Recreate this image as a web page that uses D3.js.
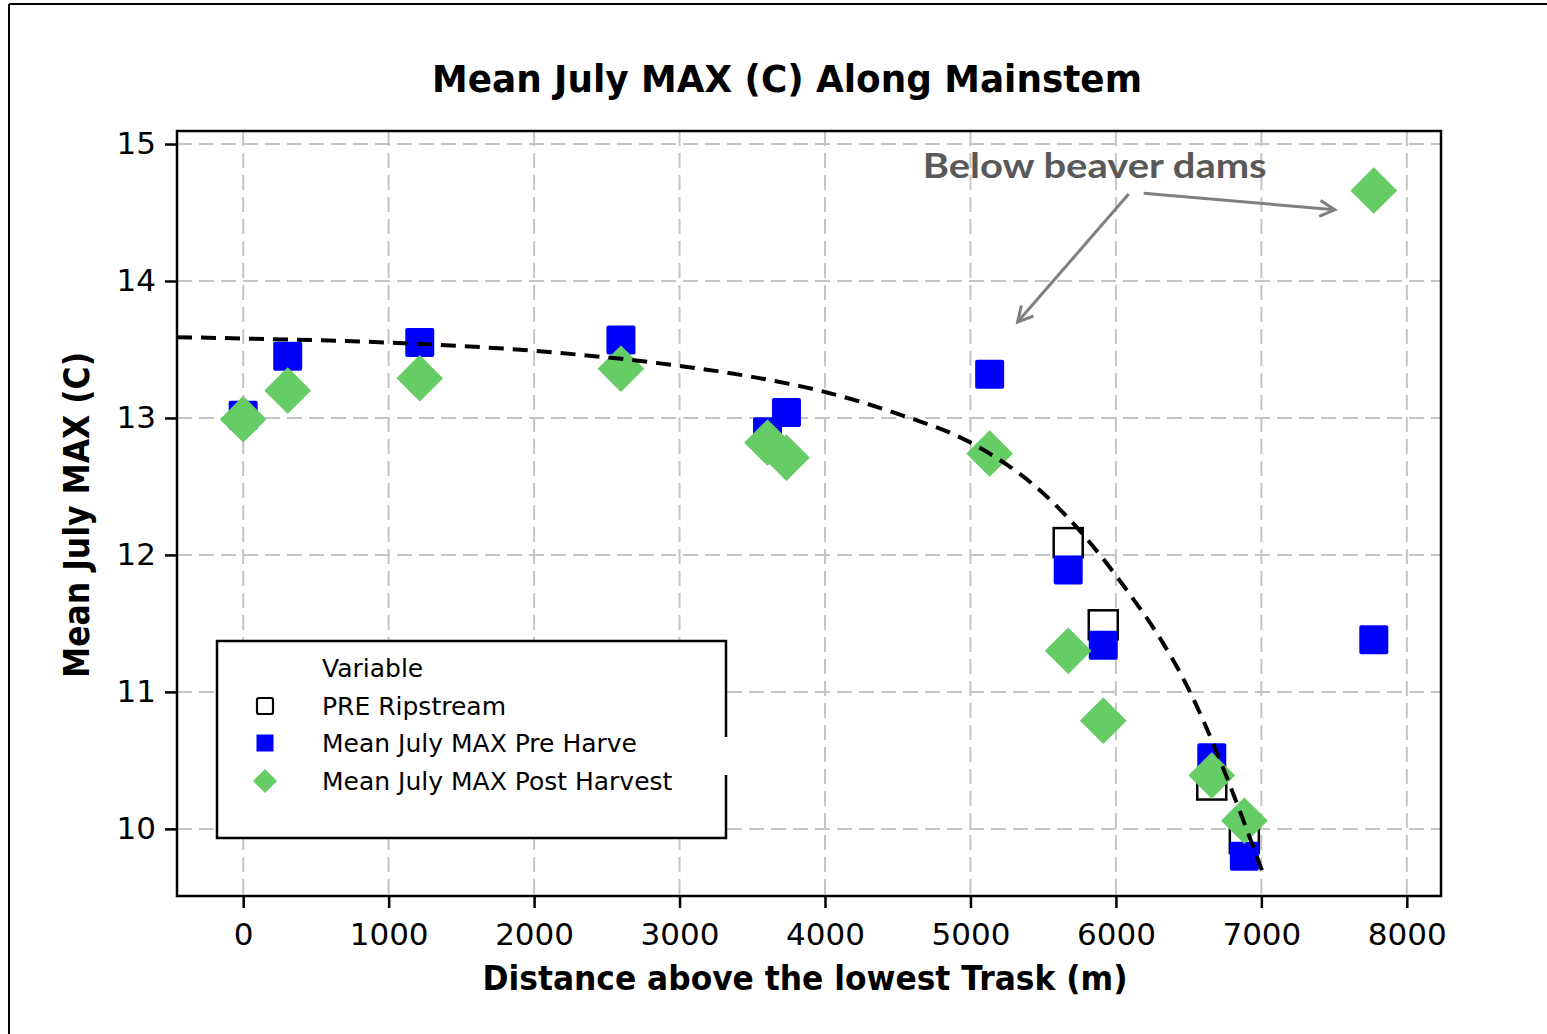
<!DOCTYPE html>
<html>
<head>
<meta charset="utf-8">
<script src="https://cdn.jsdelivr.net/npm/d3@7"></script>
<style>
  body { margin: 0; background: #fff; }
  svg { display: block; }
</style>
</head>
<body>
<div id="chart"></div>
<script>
// distance above the lowest Trask (m)
var preRipX   = [5672, 5913, 6659, 6883];
var preRipY   = [12.09, 11.49, 10.32, 9.93];
var preHarvX  = [0, 306, 1214, 2597, 3605, 3735, 5132, 5672, 5913, 6659, 6883, 7773];
var preHarvY  = [13.02, 13.45, 13.55, 13.57, 12.9, 13.04, 13.32, 11.89, 11.34, 10.52, 9.8, 11.38];
var postHarvX = [0, 306, 1214, 2597, 3605, 3735, 5132, 5672, 5913, 6659, 6883, 7773];
var postHarvY = [12.99, 13.2, 13.29, 13.36, 12.82, 12.71, 12.74, 11.3, 10.79, 10.39, 10.06, 14.66];
// dashed trend line
var fitX = [-455, 0, 1000, 2000, 3000, 3500, 4000, 4500, 5000, 5500, 6000, 6500, 7010];
var fitY = [13.59, 13.58, 13.55, 13.49, 13.38, 13.3, 13.19, 13.03, 12.82, 12.45, 11.85, 11.02, 9.68];
var xTicks = [0, 1000, 2000, 3000, 4000, 5000, 6000, 7000, 8000];
var yTicks = [10, 11, 12, 13, 14, 15];
var legendNames = ["PRE Ripstream", "Mean July MAX Pre Harvest", "Mean July MAX Post Harvest"];
// annotation in data units: text anchor, arrow from -> to
var noteText = "Below beaver dams";
var notePos = [5854, 14.75];
var noteArrows = [[6088, 14.635, 5324, 13.70], [6191, 14.64, 7505, 14.52]];

var W = 1547, H = 1034;
var plot = { left: 177, top: 131, right: 1441, bottom: 896 };

var svg = d3.select("#chart").append("svg")
  .attr("width", W)
  .attr("height", H);

// outer border (only top and left show in the picture)
svg.append("line").attr("x1", 9).attr("y1", 4).attr("x2", W).attr("y2", 4)
  .attr("stroke", "#000").attr("stroke-width", 2);
svg.append("line").attr("x1", 9).attr("y1", 4).attr("x2", 9).attr("y2", H)
  .attr("stroke", "#000").attr("stroke-width", 2);

var x = d3.scaleLinear().domain([-455, 8235]).range([plot.left, plot.right]);
var y = d3.scaleLinear().domain([9.51, 15.095]).range([plot.bottom, plot.top]);

var defs = svg.append("defs");
defs.append("clipPath").attr("id", "plotclip")
  .append("rect")
  .attr("x", plot.left).attr("y", plot.top)
  .attr("width", plot.right - plot.left).attr("height", plot.bottom - plot.top);
defs.append("marker")
  .attr("id", "openhead")
  .attr("viewBox", "0 0 22 22")
  .attr("refX", 19).attr("refY", 11)
  .attr("markerWidth", 22).attr("markerHeight", 22)
  .attr("markerUnits", "userSpaceOnUse")
  .attr("orient", "auto")
  .append("path")
  .attr("d", "M4,3 L19,11 L4,19")
  .attr("fill", "none")
  .attr("stroke", "#7f7f7f")
  .attr("stroke-width", 3);

// grid
var grid = svg.append("g").attr("clip-path", "url(#plotclip)");
grid.selectAll(".vgrid").data(xTicks).enter().append("line")
  .attr("x1", function(d) { return x(d); }).attr("x2", function(d) { return x(d); })
  .attr("y1", plot.top).attr("y2", plot.bottom)
  .attr("stroke", "#c4c4c4").attr("stroke-width", 2).attr("stroke-dasharray", "15,7");
grid.selectAll(".hgrid").data(yTicks).enter().append("line")
  .attr("x1", plot.left).attr("x2", plot.right)
  .attr("y1", function(d) { return y(d); }).attr("y2", function(d) { return y(d); })
  .attr("stroke", "#c4c4c4").attr("stroke-width", 2).attr("stroke-dasharray", "15,7");

// axes
var tickFont = "'DejaVu Sans', Verdana, sans-serif";
var xAxis = svg.append("g")
  .attr("transform", "translate(0," + plot.bottom + ")")
  .call(d3.axisBottom(x).tickValues(xTicks).tickSize(12).tickPadding(8).tickFormat(d3.format("d")));
var yAxis = svg.append("g")
  .attr("transform", "translate(" + plot.left + ",0)")
  .call(d3.axisLeft(y).tickValues(yTicks).tickSize(12).tickPadding(9).tickFormat(d3.format("d")));
[xAxis, yAxis].forEach(function(a) {
  a.select(".domain").remove();
  a.selectAll(".tick line").attr("stroke", "#000").attr("stroke-width", 2.5);
  a.selectAll(".tick text")
    .attr("fill", "#000")
    .style("font-family", tickFont)
    .style("font-size", "31px");
});
xAxis.selectAll(".tick text").attr("dy", "0.95em");

// points
var marks = svg.append("g").attr("clip-path", "url(#plotclip)");
var sq = 29;
marks.selectAll(".prerip").data(preRipX).enter().append("rect")
  .attr("x", function(d) { return x(d) - sq / 2; })
  .attr("y", function(d, i) { return y(preRipY[i]) - sq / 2; })
  .attr("width", sq).attr("height", sq)
  .attr("fill", "#fff").attr("stroke", "#000").attr("stroke-width", 2.5);
marks.selectAll(".preharv").data(preHarvX).enter().append("rect")
  .attr("x", function(d) { return x(d) - sq / 2; })
  .attr("y", function(d, i) { return y(preHarvY[i]) - sq / 2; })
  .attr("width", sq).attr("height", sq).attr("rx", 2)
  .attr("fill", "#0000ff");
var diamond = d3.symbol().type(d3.symbolSquare).size(32 * 32);
marks.selectAll(".postharv").data(postHarvX).enter().append("path")
  .attr("d", diamond)
  .attr("transform", function(d, i) { return "translate(" + x(d) + "," + y(postHarvY[i]) + ") rotate(45)"; })
  .attr("fill", "#66cc66")
  .attr("stroke", "#66cc66").attr("stroke-width", 1).attr("stroke-linejoin", "round");

// trend line
var line = d3.line()
  .x(function(d, i) { return x(d); })
  .y(function(d, i) { return y(fitY[i]); })
  .curve(d3.curveMonotoneX);
marks.append("path")
  .attr("d", line(fitX))
  .attr("fill", "none")
  .attr("stroke", "#000")
  .attr("stroke-width", 4)
  .attr("stroke-dasharray", "15,9");

// frame
svg.append("rect")
  .attr("x", plot.left).attr("y", plot.top)
  .attr("width", plot.right - plot.left).attr("height", plot.bottom - plot.top)
  .attr("fill", "none").attr("stroke", "#000").attr("stroke-width", 2.5);

// annotation
svg.append("text")
  .attr("x", x(notePos[0])).attr("y", y(notePos[1]))
  .attr("text-anchor", "middle")
  .attr("fill", "#595959")
  .attr("textLength", 344).attr("lengthAdjust", "spacingAndGlyphs")
  .style("font-family", "Lato, 'Open Sans', sans-serif")
  .style("font-weight", "bold")
  .style("font-size", "34px")
  .text(noteText);
svg.selectAll(".arrow").data(noteArrows).enter().append("line")
  .attr("x1", function(d) { return x(d[0]); }).attr("y1", function(d) { return y(d[1]); })
  .attr("x2", function(d) { return x(d[2]); }).attr("y2", function(d) { return y(d[3]); })
  .attr("stroke", "#7f7f7f").attr("stroke-width", 3)
  .attr("marker-end", "url(#openhead)");

// titles
svg.append("text")
  .attr("x", 787).attr("y", 92)
  .attr("text-anchor", "middle")
  .attr("textLength", 710).attr("lengthAdjust", "spacingAndGlyphs")
  .style("font-family", "'DejaVu Sans', Verdana, sans-serif")
  .style("font-weight", "bold").style("font-size", "37px")
  .text("Mean July MAX (C) Along Mainstem");
svg.append("text")
  .attr("x", 805).attr("y", 990)
  .attr("text-anchor", "middle")
  .attr("textLength", 645).attr("lengthAdjust", "spacingAndGlyphs")
  .style("font-family", "'DejaVu Sans', Verdana, sans-serif")
  .style("font-weight", "bold").style("font-size", "34px")
  .text("Distance above the lowest Trask (m)");
svg.append("text")
  .attr("transform", "translate(89,515) rotate(-90)")
  .attr("text-anchor", "middle")
  .attr("textLength", 326).attr("lengthAdjust", "spacingAndGlyphs")
  .style("font-family", "'DejaVu Sans', Verdana, sans-serif")
  .style("font-weight", "bold").style("font-size", "36px")
  .text("Mean July MAX (C)");

// legend
var lg = svg.append("g");
var lb = { x0: 217, y0: 641, x1: 726, y1: 838, gapTop: 737, gapBot: 775 };
lg.append("rect")
  .attr("x", lb.x0).attr("y", lb.y0)
  .attr("width", lb.x1 - lb.x0).attr("height", lb.y1 - lb.y0)
  .attr("fill", "#fff");
lg.append("path")
  .attr("d", "M" + lb.x1 + "," + lb.gapTop + "V" + lb.y0 + "H" + lb.x0 + "V" + lb.y1 + "H" + lb.x1 + "V" + lb.gapBot)
  .attr("fill", "none").attr("stroke", "#000").attr("stroke-width", 2.5);
defs.append("clipPath").attr("id", "legclip")
  .append("rect").attr("x", lb.x0).attr("y", lb.y0).attr("width", 420).attr("height", lb.y1 - lb.y0);
var legFont = "'DejaVu Sans', Verdana, sans-serif";
lg.append("text").attr("x", 322).attr("y", 677)
  .style("font-family", legFont).style("font-size", "25px").text("Variable");
var rowY = [706, 743, 781];
lg.selectAll(".lt").data(legendNames).enter().append("text")
  .attr("x", 322).attr("y", function(d, i) { return rowY[i] + 9; })
  .attr("clip-path", function(d, i) { return i === 1 ? "url(#legclip)" : null; })
  .style("font-family", legFont).style("font-size", "25px")
  .text(function(d) { return d; });
lg.append("rect").attr("x", 265 - 8).attr("y", rowY[0] - 8).attr("width", 16).attr("height", 16)
  .attr("rx", 2).attr("fill", "none").attr("stroke", "#000").attr("stroke-width", 2.2);
lg.append("rect").attr("x", 265 - 8.5).attr("y", rowY[1] - 8.5).attr("width", 17).attr("height", 17)
  .attr("fill", "#0000ff");
lg.append("path")
  .attr("d", d3.symbol().type(d3.symbolSquare).size(17 * 17)())
  .attr("transform", "translate(265," + rowY[2] + ") rotate(45)")
  .attr("fill", "#66cc66");
</script>
</body>
</html>
